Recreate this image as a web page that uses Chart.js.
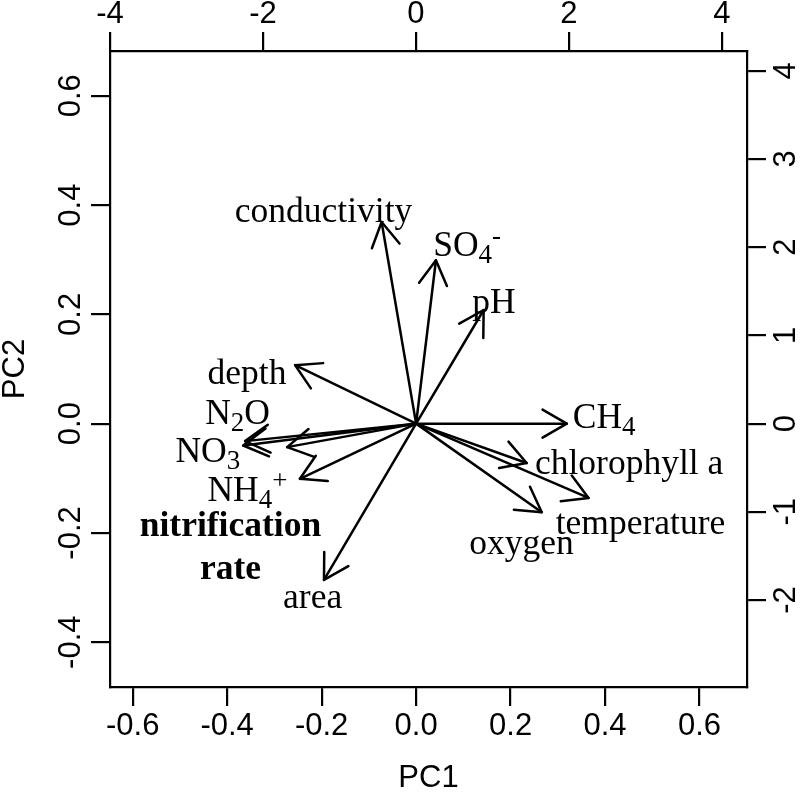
<!DOCTYPE html>
<html><head><meta charset="utf-8">
<script src="https://cdn.jsdelivr.net/npm/chart.js@4.4.0/dist/chart.umd.min.js"></script>
<style>html,body{margin:0;padding:0;background:#fff;}canvas{display:block;}</style>
</head><body>
<canvas id="c" width="800" height="797"></canvas>
<script>
// ---- data (PC1/PC2 units) ----
const variables = ['conductivity','SO4-','pH','CH4','chlorophyll a','temperature','oxygen','area','nitrification rate','NH4+','NO3','N2O','depth'];
const pc1Loadings = [-0.073, 0.042, 0.143, 0.319, 0.234, 0.365, 0.266, -0.195, -0.273, -0.246, -0.366, -0.362, -0.256];
const pc2Loadings = [0.369, 0.299, 0.208, 0.000, -0.072, -0.136, -0.162, -0.286, -0.043, -0.101, -0.040, -0.032, 0.107];
// label anchor points (data units)
const labelAnchorX = [-0.196, 0.108, 0.165, 0.398, 0.451, 0.475, 0.223, -0.219, -0.393, -0.357, -0.441, -0.378, -0.358];
const labelAnchorY = [0.391, 0.328, 0.224, 0.013, -0.071, -0.181, -0.217, -0.316, -0.224, -0.120, -0.049, 0.021, 0.0945];
// axis ticks
const pc1Ticks = [-0.6, -0.4, -0.2, 0.0, 0.2, 0.4, 0.6];
const pc2Ticks = [-0.4, -0.2, 0.0, 0.2, 0.4, 0.6];
const topTicks = [-4, -2, 0, 2, 4];
const rightTicks = [-2, -1, 0, 1, 2, 3, 4];
const pc1Range = [-0.648, 0.7005];
const pc2Range = [-0.482, 0.682];
const topRange = [-4.0, 4.327];
const rightRange = [-2.986, 4.224];

// label markup: 0 normal, 1 subscript, 2 superscript
const labelMarkup = {
  'SO4-': [['SO',0],['4',1],['-',2]],
  'CH4': [['CH',0],['4',1]],
  'NH4+': [['NH',0],['4',1],['+',2]],
  'NO3': [['NO',0],['3',1]],
  'N2O': [['N',0],['2',1],['O',0]]
};

const SANS = '"Liberation Sans", Arial, Helvetica, sans-serif';
const SERIF = '"Liberation Serif", "Times New Roman", serif';
const tickFont = {family: SANS, size: 31, lineHeight: 1};
const LABEL_SIZE = 35.5;

function fixedTicks(vals) { return s => { s.ticks = vals.map(v => ({value: v})); }; }
const gridOpts = {display: true, drawOnChartArea: false, drawTicks: true, tickLength: 19, tickWidth: 2.2, tickColor: '#000', lineWidth: 2.2, color: '#000'};
const borderOpts = {display: true, color: '#000', width: 2.2};

const datasets = variables.map((v, i) => ({
  label: v,
  data: [{x: 0, y: 0}, {x: pc1Loadings[i], y: pc2Loadings[i]}],
  showLine: true,
  borderColor: '#000',
  borderWidth: 2.5,
  borderCapStyle: 'round',
  pointRadius: 0,
  pointHoverRadius: 0,
  xAxisID: 'x',
  yAxisID: 'y'
}));

function drawRich(ctx, parts, cx, cy, size, bold) {
  const base = (bold ? 'bold ' : '') + size + 'px ' + SERIF;
  const small = (bold ? 'bold ' : '') + Math.round(size * 0.75) + 'px ' + SERIF;
  let w = 0;
  const ws = parts.map(([t, m]) => { ctx.font = m ? small : base; const x = ctx.measureText(t).width; w += x; return x; });
  let x = cx - w / 2;
  const by = cy + 0.33 * size;
  ctx.textAlign = 'left';
  ctx.textBaseline = 'alphabetic';
  parts.forEach(([t, m], k) => {
    ctx.font = m ? small : base;
    ctx.fillText(t, x, by + (m === 1 ? 7 : m === 2 ? -12 : 0));
    x += ws[k];
  });
}

const arrowPlugin = {
  id: 'arrows',
  afterDatasetsDraw(chart) {
    const ctx = chart.ctx;
    const xs = chart.scales.x, ys = chart.scales.y;
    const ox = xs.getPixelForValue(0), oy = ys.getPixelForValue(0);
    const L = 28, A = Math.PI / 6;
    ctx.save();
    ctx.strokeStyle = '#000';
    ctx.lineWidth = 2.5;
    ctx.lineCap = 'round';
    ctx.lineJoin = 'round';
    variables.forEach((v, i) => {
      const tx = xs.getPixelForValue(pc1Loadings[i]);
      const ty = ys.getPixelForValue(pc2Loadings[i]);
      const ang = Math.atan2(ty - oy, tx - ox);
      ctx.beginPath();
      ctx.moveTo(tx - L * Math.cos(ang - A), ty - L * Math.sin(ang - A));
      ctx.lineTo(tx, ty);
      ctx.lineTo(tx - L * Math.cos(ang + A), ty - L * Math.sin(ang + A));
      ctx.stroke();
    });
    ctx.fillStyle = '#000';
    variables.forEach((v, i) => {
      const cx = xs.getPixelForValue(labelAnchorX[i]);
      const cy = ys.getPixelForValue(labelAnchorY[i]);
      if (v === 'nitrification rate') {
        drawRich(ctx, [['nitrification', 0]], cx, cy - 21.7, LABEL_SIZE, true);
        drawRich(ctx, [['rate', 0]], cx, cy + 21.7, LABEL_SIZE, true);
      } else {
        drawRich(ctx, labelMarkup[v] || [[v, 0]], cx, cy, LABEL_SIZE, false);
      }
    });
    ctx.restore();
  }
};

new Chart(document.getElementById('c'), {
  type: 'scatter',
  data: {datasets},
  plugins: [arrowPlugin],
  options: {
    responsive: false,
    animation: false,
    devicePixelRatio: 1,
    layout: {padding: 0},
    plugins: {legend: {display: false}, tooltip: {enabled: false}},
    events: [],
    scales: {
      x: {
        type: 'linear', position: 'bottom', min: pc1Range[0], max: pc1Range[1],
        afterBuildTicks: fixedTicks(pc1Ticks),
        afterFit: s => { s.height = 110; },
        ticks: {font: tickFont, color: '#000', padding: 5, autoSkip: false, maxRotation: 0, callback: v => v.toFixed(1)},
        grid: gridOpts, border: borderOpts,
        title: {display: true, text: 'PC1', color: '#000', font: {family: SANS, size: 31, lineHeight: 1}, padding: {top: 0, bottom: 3}}
      },
      x2: {
        type: 'linear', position: 'top', min: topRange[0], max: topRange[1],
        afterBuildTicks: fixedTicks(topTicks),
        afterFit: s => { s.height = 51; },
        ticks: {font: tickFont, color: '#000', padding: 2, autoSkip: false, maxRotation: 0, callback: v => String(v)},
        grid: gridOpts, border: borderOpts
      },
      y: {
        type: 'linear', position: 'left', min: pc2Range[0], max: pc2Range[1],
        afterBuildTicks: fixedTicks(pc2Ticks),
        afterFit: s => { s.width = 110; },
        ticks: {font: tickFont, color: '#000', padding: -7, autoSkip: false, minRotation: 90, maxRotation: 90, crossAlign: 'center', callback: v => v.toFixed(1)},
        grid: gridOpts, border: borderOpts,
        title: {display: true, text: 'PC2', color: '#000', font: {family: SANS, size: 31, lineHeight: 1}, padding: {top: 0, bottom: 0}}
      },
      y2: {
        type: 'linear', position: 'right', min: rightRange[0], max: rightRange[1],
        afterBuildTicks: fixedTicks(rightTicks),
        afterFit: s => { s.width = 53; },
        ticks: {font: tickFont, color: '#000', padding: 7, autoSkip: false, minRotation: 90, maxRotation: 90, crossAlign: 'center', callback: v => String(v)},
        grid: gridOpts, border: borderOpts
      }
    }
  }
});
</script>
</body></html>
